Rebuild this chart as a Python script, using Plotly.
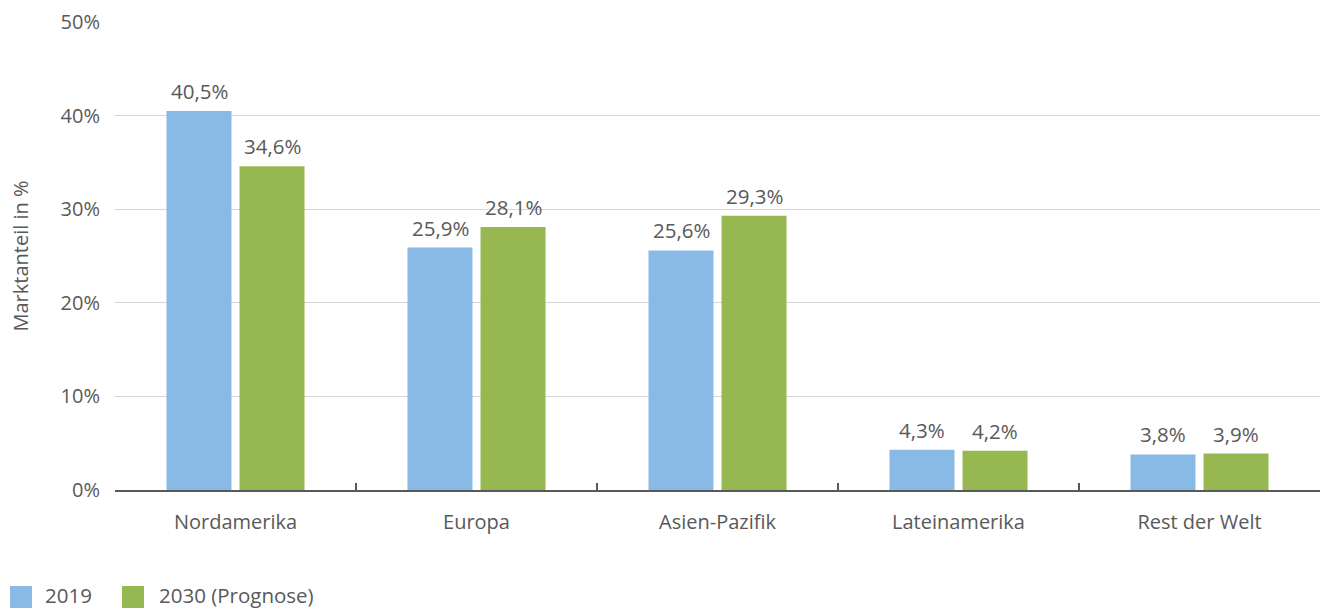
import plotly.graph_objects as go

regions = ["Nordamerika", "Europa", "Asien-Pazifik", "Lateinamerika", "Rest der Welt"]
share_2019 = [40.5, 25.9, 25.6, 4.3, 3.8]
share_2030 = [34.6, 28.1, 29.3, 4.2, 3.9]
series_names = ["2019", "2030 (Prognose)"]
y_ticks = [0, 10, 20, 30, 40, 50]

BLUE = "#89BAE5"
GREEN = "#97B751"
TEXT = "#595959"
FONT = "Open Sans, Noto Sans, sans-serif"

# plot area in pixels (used to place the legend below the axis)
L, R, T, B = 115, 6, 22, 119
W, H = 1326, 609
PW, PH = W - L - R, H - T - B


def pct_label(v):
    return f"{v:.1f}".replace(".", ",") + "%"


def px_x(px):
    return (px - L) / PW


def px_y(py):
    return (H - B - py) / PH


fig = go.Figure()
series = [(series_names[0], share_2019, BLUE, -36.5),
          (series_names[1], share_2030, GREEN, 36.5)]
for name, vals, color, shift in series:
    fig.add_trace(go.Bar(
        x=regions, y=vals, name=name, marker=dict(color=color, line=dict(width=0)),
        showlegend=False,
    ))
    for cat, v in zip(regions, vals):
        fig.add_annotation(
            x=cat, y=v, xref="x", yref="y", text=pct_label(v), showarrow=False,
            xshift=shift, yshift=20, yanchor="middle",
            font=dict(size=20.5, color=TEXT, family=FONT),
        )

# legend: coloured squares with labels along the bottom edge
legend_items = [(series_names[0], BLUE, 10, 43), (series_names[1], GREEN, 122, 157)]
for name, color, sx, tx in legend_items:
    fig.add_shape(
        type="rect", xref="paper", yref="paper",
        x0=px_x(sx), x1=px_x(sx + 22), y0=px_y(608), y1=px_y(586),
        fillcolor=color, line=dict(width=0),
    )
    fig.add_annotation(
        xref="paper", yref="paper", x=px_x(tx), y=px_y(595), text=name,
        showarrow=False, xanchor="left", yanchor="middle",
        font=dict(size=20.5, color=TEXT, family=FONT),
    )

fig.update_layout(
    width=W, height=H,
    margin=dict(l=L, r=R, t=T, b=B),
    paper_bgcolor="white", plot_bgcolor="white",
    font=dict(family=FONT, color=TEXT, size=20),
    barmode="group", bargap=0.394, bargroupgap=0.11,
    showlegend=False,
)

fig.update_yaxes(
    range=[0, 50], tickvals=y_ticks, ticktext=[f"{t}%" for t in y_ticks],
    showgrid=True, gridcolor="#D6D6D6", gridwidth=1, zeroline=False,
    showline=False, ticks="", ticklabelstandoff=14,
    tickfont=dict(size=20, color=TEXT),
    title=dict(text="Marktanteil in %", font=dict(size=20, color=TEXT), standoff=26),
)
fig.update_xaxes(
    showline=True, linecolor="#595959", linewidth=2,
    ticks="inside", tickson="boundaries", ticklen=7, tickwidth=2, tickcolor="#595959",
    ticklabelstandoff=13, tickfont=dict(size=20, color=TEXT), showgrid=False,
)

fig.write_html("out.html")
